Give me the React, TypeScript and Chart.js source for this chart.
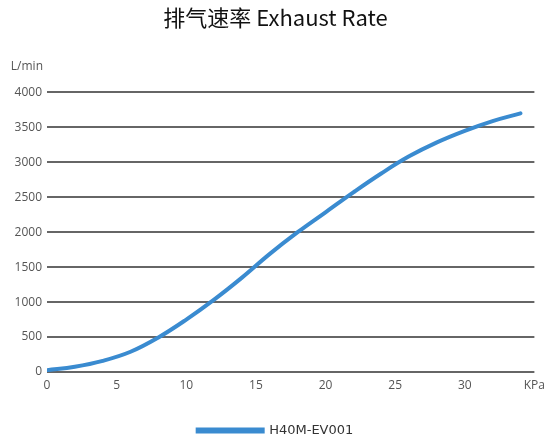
import React, { useEffect, useRef } from "react";
import { Chart, registerables } from "chart.js";

Chart.register(...registerables);

const pressureKPa = [0, 2, 4, 6, 8, 10, 12, 14, 16, 18, 20, 22, 24, 26, 28, 30, 32, 34];
const exhaustRate = [25, 75, 160, 290, 495, 750, 1035, 1350, 1690, 2000, 2285, 2570, 2840, 3085, 3285, 3450, 3590, 3700];
const seriesName = "H40M-EV001";
const titleText = "排气速率 Exhaust Rate";
const yUnit = "L/min";
const xUnit = "KPa";

const unitPlugin = {
  id: "unitLabel",
  afterDraw(chart: any) {
    const { ctx, chartArea } = chart;
    ctx.save();
    ctx.font = "12px 'Open Sans', sans-serif";
    ctx.fillStyle = "#555";
    ctx.textAlign = "right";
    ctx.textBaseline = "middle";
    ctx.fillText(yUnit, chartArea.left - 4, chartArea.top - 26);
    ctx.restore();
  },
};

export default function App() {
  const ref = useRef<HTMLCanvasElement>(null);
  useEffect(() => {
    document.body.style.margin = "0";
    const chart = new Chart(ref.current!, {
      type: "line",
      data: {
        datasets: [
          {
            label: seriesName,
            data: pressureKPa.map((x, i) => ({ x, y: exhaustRate[i] })),
            borderColor: "#3a8bd0",
            backgroundColor: "#3a8bd0",
            borderWidth: 4,
            pointRadius: 0,
            tension: 0.4,
            borderCapStyle: "round",
          },
        ],
      },
      options: {
        animation: false,
        responsive: false,
        layout: { padding: { left: 14, right: 14, top: 0, bottom: -8 } },
        plugins: {
          title: {
            display: true,
            text: titleText,
            color: "#111",
            font: { family: "'Noto Sans CJK SC', sans-serif", size: 22, weight: "normal" },
            padding: { top: 4, bottom: 62 },
          },
          legend: {
            position: "bottom",
            labels: {
              boxWidth: 65,
              boxHeight: 2,
              color: "#333",
              font: { family: "'DejaVu Sans', sans-serif", size: 13 },
              padding: 4,
            },
          },
          tooltip: { enabled: false },
        },
        scales: {
          x: {
            type: "linear",
            min: 0,
            max: 35,
            afterFit: (s: any) => {
              s.height = 48;
            },
            grid: { display: false, drawTicks: false },
            border: { display: false },
            ticks: {
              stepSize: 5,
              padding: 6,
              color: "#555",
              font: { family: "'Open Sans', sans-serif", size: 12 },
              callback: (v: any) => (v === 35 ? xUnit : String(v)),
              maxRotation: 0,
            },
          },
          y: {
            min: 0,
            max: 4000,
            afterFit: (s: any) => {
              s.width = 33;
            },
            grid: { color: "#666", lineWidth: 2, drawTicks: false },
            border: { display: false },
            ticks: {
              stepSize: 500,
              padding: 5,
              color: "#555",
              font: { family: "'Open Sans', sans-serif", size: 12 },
              callback: (v: any) => String(v),
            },
          },
        },
      },
      plugins: [unitPlugin],
    });
    return () => chart.destroy();
  }, []);
  return (
    <div style={{ width: 551, height: 439 }}>
      <canvas ref={ref} width={551} height={439} />
    </div>
  );
}
